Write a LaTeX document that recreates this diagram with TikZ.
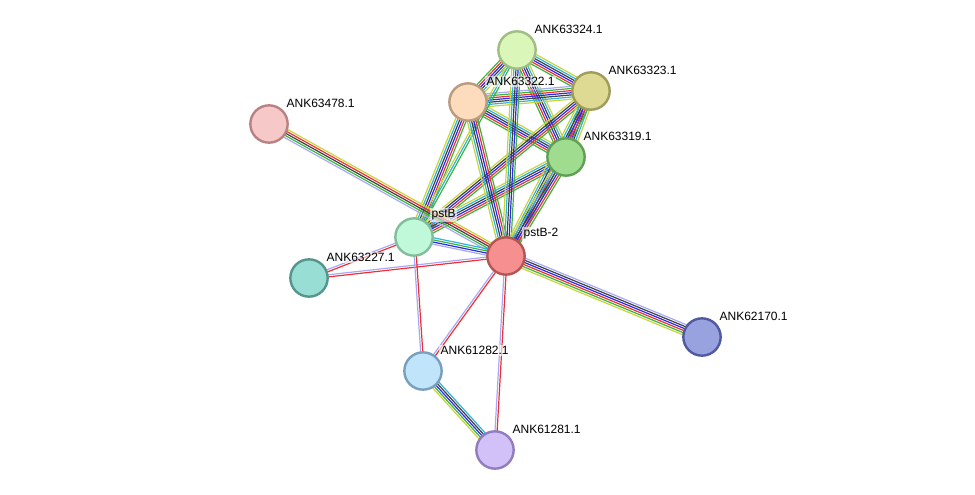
\documentclass[tikz,border=0pt]{standalone}
\usetikzlibrary{calc}
\usepackage{fontspec}
\setmainfont{Liberation Sans}
\definecolor{cyg}{HTML}{C8D43C}
\definecolor{cgr}{HTML}{3CB43C}
\definecolor{crd}{HTML}{F03030}
\definecolor{cbl}{HTML}{2828F0}
\definecolor{cdk}{HTML}{404040}
\definecolor{ccy}{HTML}{30B4DC}
\definecolor{clv}{HTML}{A8A8F8}
\newcommand{\multiedge}[3]{%
  \edef\edgelst{#3}%
  \foreach \c [count=\k] in \edgelst {\xdef\nlines{\k}}%
  \foreach \c [count=\k] in \edgelst {%
    \pgfmathsetmacro{\off}{(\k-(\nlines+1)/2)*1.6}%
    \draw[color=\c, line width=0.9pt] ($(#1)!\off pt!90:(#2)$) -- ($(#2)!\off pt!-90:(#1)$);}}
\tikzset{prot/.style={circle, inner sep=0pt, line width=1.8pt, minimum size=28pt},
  lab/.style={font=\fontsize{9}{10}\selectfont, anchor=south west, inner sep=1pt, fill=white, fill opacity=0.6, text opacity=1}}
\begin{document}
\begin{tikzpicture}[x=0.75pt,y=-0.75pt]
\useasboundingbox (0,0) rectangle (975,495);
\coordinate (a324) at (517,50);
\coordinate (a323) at (591,91);
\coordinate (a322) at (468,102);
\coordinate (a319) at (566,157);
\coordinate (a478) at (269,124);
\coordinate (pstB) at (414,237);
\coordinate (pstB2) at (506,256);
\coordinate (a227) at (309,278);
\coordinate (a170) at (702,337);
\coordinate (a282) at (423,371);
\coordinate (a281) at (495,450);
\def\full{cgr,crd,cbl,cdk,ccy,cyg}
\multiedge{a324}{a323}{\full}
\multiedge{a324}{a322}{\full}
\multiedge{a324}{a319}{\full}
\multiedge{a323}{a322}{clv,\full}
\multiedge{a323}{a319}{\full}
\multiedge{a322}{a319}{\full}
\multiedge{pstB}{a322}{\full}
\multiedge{pstB}{a324}{cgr,ccy,cyg}
\multiedge{pstB}{a323}{cgr,crd,cbl,cdk,cyg}
\multiedge{pstB}{a319}{\full}
\multiedge{pstB2}{a322}{\full}
\multiedge{pstB2}{a324}{cgr,cbl,cdk,ccy,cyg}
\multiedge{pstB2}{a323}{\full}
\multiedge{pstB2}{a319}{\full}
\multiedge{a478}{pstB2}{clv,cgr,cdk,crd,cyg}
\multiedge{pstB}{pstB2}{clv,cbl,cgr,ccy}
\multiedge{pstB2}{a170}{cyg,cgr,crd,cbl,cdk,clv}
\multiedge{pstB}{a227}{clv,crd}
\multiedge{pstB2}{a227}{clv,crd}
\multiedge{pstB}{a282}{clv,crd}
\multiedge{pstB2}{a282}{clv,crd}
\multiedge{pstB2}{a281}{clv,crd}
\multiedge{a282}{a281}{cyg,cgr,cbl,cdk,ccy}
\node[prot, fill={rgb,255:red,218;green,246;blue,184}, draw={rgb,255:red,160;green,190;blue,130}] (n324) at (a324) {};
\node[prot, fill={rgb,255:red,222;green,218;blue,148}, draw={rgb,255:red,160;green,156;blue,90}] (n323) at (a323) {};
\node[prot, fill={rgb,255:red,252;green,220;blue,188}, draw={rgb,255:red,185;green,155;blue,125}] (n322) at (a322) {};
\node[prot, fill={rgb,255:red,160;green,220;blue,144}, draw={rgb,255:red,96;green,160;blue,86}] (n319) at (a319) {};
\node[prot, fill={rgb,255:red,246;green,200;blue,200}, draw={rgb,255:red,185;green,130;blue,130}] (n478) at (a478) {};
\node[prot, fill={rgb,255:red,192;green,248;blue,218}, draw={rgb,255:red,130;green,190;blue,155}] (npstB) at (pstB) {};
\node[prot, fill={rgb,255:red,246;green,144;blue,144}, draw={rgb,255:red,180;green,85;blue,85}] (npstB2) at (pstB2) {};
\node[prot, fill={rgb,255:red,152;green,222;blue,212}, draw={rgb,255:red,84;green,150;blue,140}] (n227) at (a227) {};
\node[prot, fill={rgb,255:red,152;green,162;blue,222}, draw={rgb,255:red,80;green,90;blue,160}] (n170) at (a170) {};
\node[prot, fill={rgb,255:red,192;green,228;blue,250}, draw={rgb,255:red,120;green,160;blue,190}] (n282) at (a282) {};
\node[prot, fill={rgb,255:red,210;green,192;blue,248}, draw={rgb,255:red,145;green,125;blue,190}] (n281) at (a281) {};
\node[lab] at (533,35) {ANK63324.1};
\node[lab] at (607,76) {ANK63323.1};
\node[lab] at (485,87) {ANK63322.1};
\node[lab] at (582,142) {ANK63319.1};
\node[lab] at (285,109) {ANK63478.1};
\node[lab] at (430,222) {pstB};
\node[lab] at (522,241) {pstB-2};
\node[lab] at (325,263) {ANK63227.1};
\node[lab] at (718,322) {ANK62170.1};
\node[lab] at (439,356) {ANK61282.1};
\node[lab] at (511,435) {ANK61281.1};
\end{tikzpicture}
\end{document}
